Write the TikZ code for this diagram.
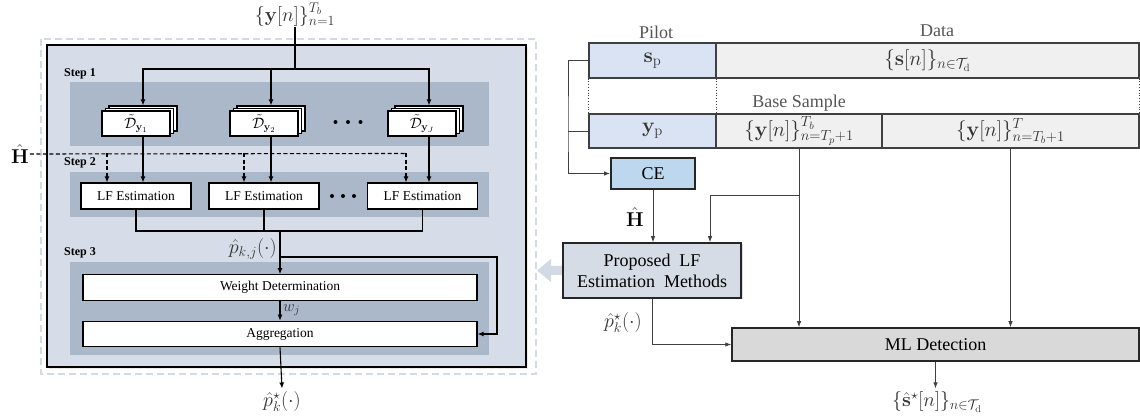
\documentclass[tikz,border=0pt]{standalone}
\usepackage{fix-cm}
\usepackage[no-math]{fontspec}
\setmainfont{Liberation Serif}
\newfontfamily\tnr{Liberation Serif}
\usetikzlibrary{arrows.meta,shadows,calc}

\definecolor{panelbg}{HTML}{D6DDE8}
\definecolor{bandbg}{HTML}{ABB8CA}
\definecolor{frameblue}{HTML}{D2DAE5}
\definecolor{pilotbg}{HTML}{DAE3F3}
\definecolor{databg}{HTML}{F0F0F0}
\definecolor{cebg}{HTML}{BDD7EE}
\definecolor{propbg}{HTML}{D6DCE5}
\definecolor{mlbg}{HTML}{D9D9D9}
\definecolor{wire}{HTML}{404040}
\definecolor{labelgray}{HTML}{555555}
\definecolor{mathgray}{HTML}{333333}

\newcommand\lffont{\tnr\fontsize{13.5}{16}\selectfont}
\newcommand\stepfont{\tnr\fontsize{12}{14}\selectfont\bfseries}
\newcommand\dfont{\fontsize{15}{17}\selectfont}
\newcommand\mfont{\fontsize{20}{22}\selectfont}
\newcommand\cellfont{\fontsize{21}{23}\selectfont}
\newcommand\rfont{\tnr\fontsize{18}{21}\selectfont}

\tikzset{
  whitebox/.style={draw=black, line width=1.1pt, fill=white, inner sep=0pt},
  dstack/.style={whitebox, minimum width=68pt, minimum height=25pt, font=\dfont,
    double copy shadow={shadow xshift=3.5pt, shadow yshift=2.5pt, fill=white, draw=black, line width=1.1pt}},
  lfbox/.style={whitebox, minimum width=110pt, minimum height=26pt, font=\lffont},
  widebox/.style={whitebox, minimum width=394pt, minimum height=25.5pt, font=\lffont},
  band/.style={fill=bandbg, draw=none, inner sep=0pt, minimum width=419pt},
  steplabel/.style={anchor=west, font=\stepfont, inner sep=0pt},
  wireL/.style={line width=1.1pt},
  arr/.style={wireL, -{Latex[length=6pt,width=5pt]}},
  hline/.style={wireL, dash pattern=on 4pt off 2.5pt},
  harr/.style={hline, -{Latex[length=6pt,width=5pt]}},
  mathlbl/.style={font=\mfont, text=mathgray},
  cell/.style={draw=wire, line width=1.1pt, inner sep=0pt, font=\cellfont, text=mathgray},
  toplabel/.style={font=\rfont, text=labelgray, inner sep=0pt},
  rbox/.style={draw=black!85, line width=1.5pt, inner sep=0pt, font=\rfont},
  rwire/.style={draw=wire, line width=0.9pt},
  rarr/.style={rwire, -{Latex[length=6pt,width=4.5pt]}},
}

\begin{document}
\begin{tikzpicture}[x=1pt, y=-1pt]
\useasboundingbox (0,0) rectangle (1140,419);

% ---------------- left: estimation procedure ----------------
\draw[draw=frameblue, line width=2pt, dash pattern=on 7pt off 4pt] (41,39) rectangle (536,374);
\node[draw=black, line width=2.5pt, fill=panelbg, inner sep=0pt,
      minimum width=479pt, minimum height=322pt,
      drop shadow={opacity=0.15, shadow xshift=2pt, shadow yshift=-2pt}] (panel) at (286.5,206) {};

\node[band, minimum height=64pt] (band1) at (279.5,114) {};
\node[band, minimum height=45pt] (band2) at (279.5,194.5) {};
\node[band, minimum height=93pt] (band3) at (279.5,308.5) {};

\node[steplabel] (step1) at (64,74) {Step 1};
\node[steplabel] (step2) at (64,163) {Step 2};
\node[steplabel] (step3) at (64,253) {Step 3};

% stacked data sets (two copies drawn behind each)
\node[dstack] (d1) at (136,123.5) {$\tilde{\mathcal D}_{\mathbf y_1}$};
\node[dstack] (d2) at (264,123.5) {$\tilde{\mathcal D}_{\mathbf y_2}$};
\node[dstack] (d3) at (422,123.5) {$\tilde{\mathcal D}_{\mathbf y_J}$};
\coordinate (d1top) at ($(d1.north)+(7,-5)$);
\coordinate (d2top) at ($(d2.north)+(7,-5)$);
\coordinate (d3top) at ($(d3.north)+(7,-5)$);
\foreach \dx in {-12.5,0,12.5} \fill (348+\dx,122) circle (2pt);

% likelihood-function estimators
\node[lfbox] (lf1) at (136,196) {LF Estimation};
\node[lfbox] (lf2) at (264,196) {LF Estimation};
\node[lfbox] (lf3) at (422.5,196) {LF Estimation};
\foreach \dx in {-11,0,11} \fill (343+\dx,196) circle (2pt);

% aggregation stage
\node[widebox] (wd)  at (280,287.5) {Weight Determination};
\node[widebox] (agg) at (280,334) {Aggregation};

% received samples fan out to the data sets
\node[mathlbl, inner sep=0pt] (yin) at (295,15) {$\{\mathbf y[n]\}_{n=1}^{T_b}$};
\coordinate (split) at (295,69);
\draw[wireL] (yin.south) -- (split);
\draw[arr] (split) -| (d1top);
\draw[arr] (split) -| (d3top);
\draw[arr] (d2top |- split) -- (d2top);

\draw[arr] (d1.south -| d1top) -- (lf1.north -| d1top);
\draw[arr] (d2.south -| d2top) -- (lf2.north -| d2top);
\draw[arr] (d3.south -| d3top) -- (lf3.north -| d3top);

% channel estimate (dashed)
\node[mathlbl, text=black, inner sep=1pt] (hhat) at (20,154) {$\hat{\mathbf H}$};
\coordinate (h1) at (107,153.5);
\coordinate (h2) at (244,153.5);
\coordinate (h3) at (406,153.5);
\draw[hline] (hhat.east) -- (h3);
\draw[harr] (h1) -- (h1 |- lf1.north);
\draw[harr] (h2) -- (h2 |- lf2.north);
\draw[harr] (h3) -- (h3 |- lf3.north);

% merge of the estimates
\coordinate (merge) at (280,231);
\draw[wireL] (lf1.south) |- (merge) -| (lf3.south);
\draw[wireL] (lf2.south) -- (lf2.south |- merge);
\draw[arr] (merge) -- (wd.north);
\node[mathlbl, anchor=east, inner sep=1pt] (pkj) at (278,249) {$\hat p_{k,j}(\cdot)$};
\coordinate (tap) at (280,257);
\coordinate (loop) at (497,257);
\draw[arr] (tap) -- (loop) |- (agg.east);
\draw[arr] (wd.south) -- (agg.north);
\node[mathlbl, anchor=west, inner sep=1pt, font=\fontsize{16}{18}\selectfont] (wj) at (282,310) {$w_j$};
\node[mathlbl] (pk) at (282,402) {$\hat p_k^\star(\cdot)$};
\draw[arr] (agg.south) -- (pk.north);

% ---------------- right: frame structure and receiver ----------------
\node[toplabel] (pilot) at (656,32) {Pilot};
\node[toplabel] (data)  at (937,31) {Data};
\node[toplabel] (base)  at (799,103) {Base Sample};

\node[cell, fill=pilotbg, minimum width=127pt, minimum height=35pt] (sp) at (652.5,60.5) {$\mathbf s_{\mathrm p}$};
\node[cell, fill=databg,  minimum width=423pt, minimum height=35pt] (sd) at (927.5,60.5) {$\{\mathbf s[n]\}_{n\in\mathcal T_{\mathrm d}}$};
\node[cell, fill=pilotbg, minimum width=127pt, minimum height=34pt] (yp) at (652.5,131) {$\mathbf y_{\mathrm p}$};
\node[cell, fill=databg,  minimum width=166pt, minimum height=34pt] (yb) at (799,131) {$\{\mathbf y[n]\}_{n=T_p+1}^{T_b}$};
\node[cell, fill=databg,  minimum width=257pt, minimum height=34pt] (yr) at (1010.5,131) {$\{\mathbf y[n]\}_{n=T_b+1}^{T}$};
\draw[wire, line width=0.8pt, dotted] (sp.south west) -- (yp.north west);
\draw[wire, line width=0.8pt, dotted] (sp.south east) -- (yp.north east);
\draw[wire, line width=0.8pt, dotted] (sd.south east) -- (yr.north east);

\node[rbox, line width=1.8pt, fill=cebg, minimum width=84pt, minimum height=31pt] (ce) at (653,173.5) {CE};

% hand-over arrow to the detailed procedure
\fill[frameblue] (563,266) -- (551,266) -- (551,259) -- (537,270.5) -- (551,282) -- (551,275) -- (563,275) -- cycle;
\node[rbox, fill=propbg, minimum width=178pt, minimum height=55pt, align=center,
      drop shadow={opacity=0.25, shadow xshift=1.5pt, shadow yshift=-1.5pt}] (prop) at (652,270.5)
      {Proposed~~LF\\Estimation~~Methods};
\node[rbox, fill=mlbg, minimum width=407pt, minimum height=33pt] (ml) at (935.5,344.5) {ML Detection};

\coordinate (bend) at (568,131);
\draw[rarr] (sp.west) -| (bend) |- (ce.west);
\draw[rwire] (yp.west) -- (bend);

\draw[rarr] (ce.south) -- (ce.south |- prop.north);
\node[mathlbl, text=black, anchor=east, inner sep=1pt] (hr) at (645,217) {$\hat{\mathbf H}$};

\coordinate (bsplit) at (799,195);
\coordinate (pin) at (710,195);
\draw[rarr] (yb.south) -- (yb.south |- ml.north);
\draw[rarr] (bsplit) -- (pin) -- (pin |- prop.north);
\draw[rarr] (yr.south) -- (yr.south |- ml.north);

\draw[rarr] (prop.south) |- (ml.west);
\node[mathlbl, anchor=east, inner sep=1pt] (pkr) at (643,323) {$\hat p_k^\star(\cdot)$};

\node[mathlbl] (shat) at (937,402) {$\{\hat{\mathbf s}^\star[n]\}_{n\in\mathcal T_{\mathrm d}}$};
\draw[rarr] (ml.south) -- (ml.south |- shat.north);
\end{tikzpicture}
\end{document}
